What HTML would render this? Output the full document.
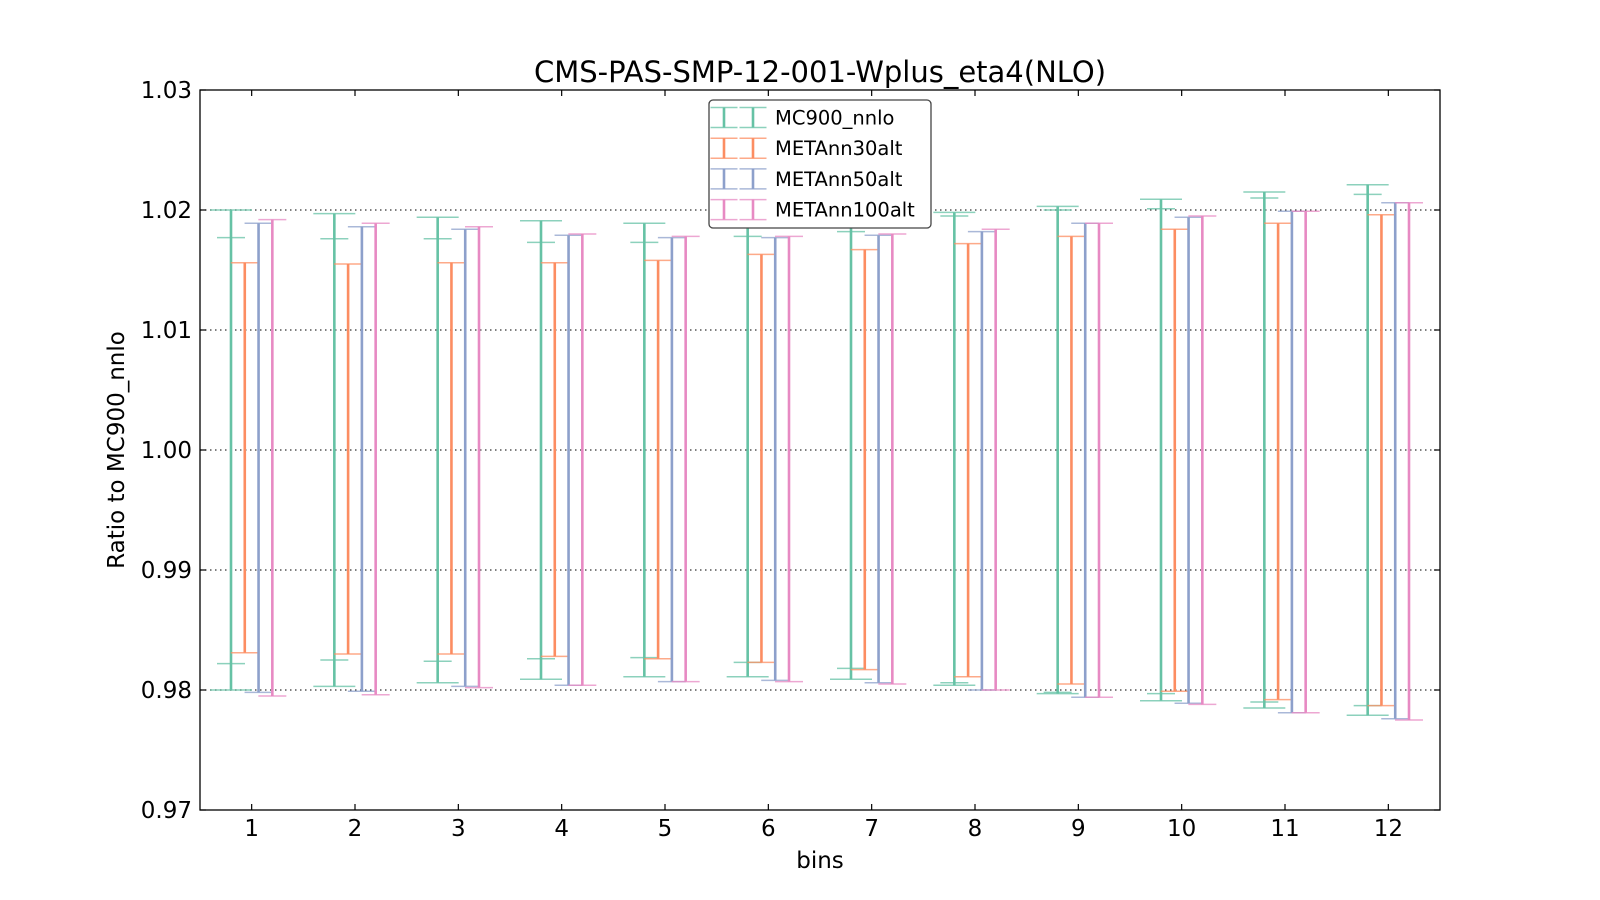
<!DOCTYPE html>
<html><head><meta charset="utf-8"><style>
html,body{margin:0;padding:0;background:#fff;}
svg{display:block;font-family:"DejaVu Sans","Liberation Sans",sans-serif;}
</style></head><body>
<svg id="chart" width="1600" height="900" viewBox="0 0 1600 900" xmlns="http://www.w3.org/2000/svg">
<rect width="1600" height="900" fill="#fff"/>
<text x="820" y="82" font-size="29" text-anchor="middle" fill="#000">CMS-PAS-SMP-12-001-Wplus_eta4(NLO)</text>
<g id="grid"></g>
<g id="marks"></g>
<rect x="200" y="90" width="1240" height="720" fill="none" stroke="#000" stroke-width="1.3"/>
<g id="axes"></g>
<text x="820" y="868" font-size="23" text-anchor="middle">bins</text>
<text transform="translate(124,450) rotate(-90)" font-size="23" text-anchor="middle">Ratio to MC900_nnlo</text>
<g id="legend"></g>
</svg>
<script>
const bins = [1,2,3,4,5,6,7,8,9,10,11,12];
const yTicks = [0.97,0.98,0.99,1.00,1.01,1.02,1.03];
const yTickLabels = ["0.97","0.98","0.99","1.00","1.01","1.02","1.03"];
const seriesNames = ["MC900_nnlo","METAnn30alt","METAnn50alt","METAnn100alt"];
const greenOuterHi = [1.0200,1.0197,1.0194,1.0191,1.0189,1.0188,1.0190,1.0198,1.0203,1.0209,1.0215,1.0221];
const greenOuterLo = [0.9800,0.9803,0.9806,0.9809,0.9811,0.9811,0.9809,0.9804,0.9797,0.9791,0.9785,0.9779];
const greenInnerHi = [1.0177,1.0176,1.0176,1.0173,1.0173,1.0178,1.0182,1.0195,1.0200,1.0201,1.0210,1.0213];
const greenInnerLo = [0.9822,0.9825,0.9824,0.9826,0.9827,0.9823,0.9818,0.9806,0.9798,0.9797,0.9790,0.9787];
const orangeHi = [1.0156,1.0155,1.0156,1.0156,1.0158,1.0163,1.0167,1.0172,1.0178,1.0184,1.0189,1.0196];
const orangeLo = [0.9831,0.9830,0.9830,0.9828,0.9826,0.9823,0.9817,0.9811,0.9805,0.9799,0.9792,0.9787];
const blueHi = [1.0189,1.0186,1.0184,1.0179,1.0177,1.0177,1.0179,1.0182,1.0189,1.0194,1.0199,1.0206];
const blueLo = [0.9798,0.9799,0.9803,0.9804,0.9807,0.9808,0.9806,0.9800,0.9794,0.9789,0.9781,0.9776];
const pinkHi = [1.0192,1.0189,1.0186,1.0180,1.0178,1.0178,1.0180,1.0184,1.0189,1.0195,1.0199,1.0206];
const pinkLo = [0.9795,0.9796,0.9802,0.9804,0.9807,0.9807,0.9805,0.9800,0.9794,0.9788,0.9781,0.9775];

const NS="http://www.w3.org/2000/svg";
const X0=200,X1=1440,Y0=90,Y1=810;
const xScale = v => X0 + (v-0.5)/12*(X1-X0);
const yScale = v => Y1 - (v-0.97)/0.06*(Y1-Y0);
function mk(tag, attrs, parent){const e=document.createElementNS(NS,tag);for(const k in attrs)e.setAttribute(k,attrs[k]);parent.appendChild(e);return e;}
const grid=document.getElementById('grid'), marks=document.getElementById('marks'), axes=document.getElementById('axes'), legend=document.getElementById('legend');

yTicks.forEach((t,i)=>{
  const y=yScale(t);
  if(i>0&&i<yTicks.length-1){
    const g=mk('line',{x1:X0,x2:X1,y1:y,y2:y,stroke:'#333','stroke-width':1.3,'stroke-dasharray':'1.5,3.5'},grid);
    
    
  }
  const a=mk('line',{x1:X0,x2:X0+6,y1:y,y2:y,stroke:'#000','stroke-width':1.2},axes);
  
  
  const b=mk('line',{x1:X1,x2:X1-6,y1:y,y2:y,stroke:'#000','stroke-width':1.2},axes);
  
  
  const tx=mk('text',{x:X0-8,y:y+8,'font-size':23,'text-anchor':'end'},axes);
  tx.textContent=yTickLabels[i];
  
  
});
bins.forEach(b=>{
  const x=xScale(b);
  const a=mk('line',{x1:x,x2:x,y1:Y1,y2:Y1-6,stroke:'#000','stroke-width':1.2},axes);
  
  
  const c=mk('line',{x1:x,x2:x,y1:Y0,y2:Y0+6,stroke:'#000','stroke-width':1.2},axes);
  
  
  const tx=mk('text',{x:x,y:Y1+26,'font-size':23,'text-anchor':'middle'},axes);
  tx.textContent=String(b);
  
  
});

const colors=['#66c2a5','#fc8d62','#8da0cb','#e78ac3'];
const offsets=[-0.2,-0.0667,0.0667,0.2];
function errbar(x,lo,hi,color,cap,name,drawLine){
  const g=mk('g',{},marks);
  
  
  if(drawLine){mk('line',{x1:x,x2:x,y1:yScale(lo),y2:yScale(hi),stroke:color,'stroke-width':2.6},g);}
  mk('line',{x1:x-cap,x2:x+cap,y1:yScale(hi),y2:yScale(hi),stroke:color,'stroke-width':1.5,'stroke-opacity':0.75},g);
  mk('line',{x1:x-cap,x2:x+cap,y1:yScale(lo),y2:yScale(lo),stroke:color,'stroke-width':1.5,'stroke-opacity':0.75},g);
}
const his=[greenOuterHi,orangeHi,blueHi,pinkHi], los=[greenOuterLo,orangeLo,blueLo,pinkLo];
const names=['mc900-nnlo','metann30alt','metann50alt','metann100alt'];
bins.forEach((b,i)=>{
  for(let s=0;s<4;s++){
    const x=xScale(b+offsets[s]);
    errbar(x,los[s][i],his[s][i],colors[s],s===0?21:14,'errorbar-'+names[s]+'-bin'+b,true);
    if(s===0) errbar(x,greenInnerLo[i],greenInnerHi[i],colors[0],14,'errorbar-inner-'+names[0]+'-bin'+b,false);
  }
});

// legend
const lb=mk('rect',{x:709,y:100,width:222,height:128,rx:4,fill:'#fff',stroke:'#444','stroke-width':1.3},legend);


seriesNames.forEach((n,i)=>{
  const cy=117.5+i*30.7, c=colors[i];
  const g=mk('g',{},legend);
  
  
  [724,753].forEach(x=>{
    mk('line',{x1:x,x2:x,y1:cy-10,y2:cy+10,stroke:c,'stroke-width':2.6},g);
    mk('line',{x1:x-13.5,x2:x+13.5,y1:cy-10,y2:cy-10,stroke:c,'stroke-width':1.5,'stroke-opacity':0.75},g);
    mk('line',{x1:x-13.5,x2:x+13.5,y1:cy+10,y2:cy+10,stroke:c,'stroke-width':1.5,'stroke-opacity':0.75},g);
  });
  const t=mk('text',{x:775,y:cy+7,'font-size':19.5},g);
  t.textContent=n;
});
</script>
</body></html>
